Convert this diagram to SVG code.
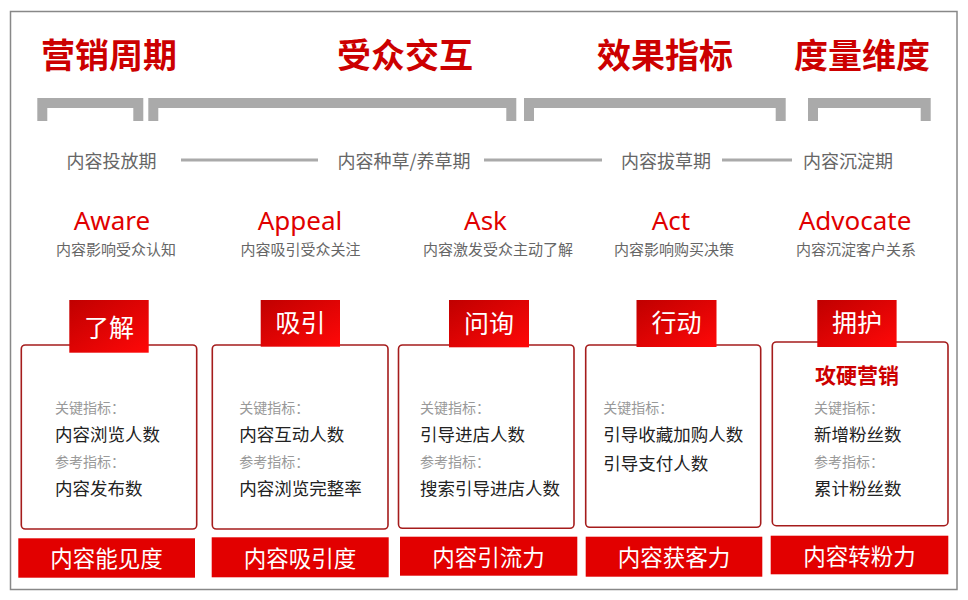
<svg xmlns="http://www.w3.org/2000/svg" width="968" height="600" viewBox="0 0 968 600">
<defs>
<linearGradient id="tabGrad" x1="0" y1="0" x2="1" y2="1">
<stop offset="0" stop-color="#c00000"/>
<stop offset="1" stop-color="#ff0808"/>
</linearGradient>
<style>
.cjk{font-family:"Noto Sans CJK SC","Noto Sans",sans-serif}
.title{font-size:34px;font-weight:bold;fill:#cc0000}
.bracket{fill:none;stroke:#aaaaaa;stroke-width:10;stroke-linejoin:miter}
.period{font-size:18px;fill:#666666}
.conn{stroke:#aaaaaa;stroke-width:3}
.en{font-family:"Noto Sans","Open Sans",sans-serif;font-size:26px;fill:#e00000;text-anchor:middle}
.sub{font-size:15px;fill:#666666;text-anchor:middle}
.tab{fill:url(#tabGrad)}
.tabtxt{font-size:25px;fill:#ffffff;text-anchor:middle}
.card{fill:#ffffff;stroke:#a51c1c;stroke-width:1.6}
.lbl{font-size:14px;fill:#999999}
.val{font-size:17.5px;fill:#222222}
.bar{fill:#e20000}
.bartxt{font-size:22.5px;fill:#ffffff;text-anchor:middle}
</style>
</defs>
<rect x="0" y="0" width="968" height="600" fill="#ffffff"/>
<rect x="10.5" y="11.5" width="946.5" height="578" fill="none" stroke="#888888" stroke-width="1.5"/>

<g id="titles" class="cjk">
<text class="title" x="41" y="68">营销周期</text>
<text class="title" x="337" y="68">受众交互</text>
<text class="title" x="597" y="68">效果指标</text>
<text class="title" x="794" y="68">度量维度</text>
</g>

<g id="brackets">
<path class="bracket" d="M42.3 121 V103 H138.3 V121"/>
<path class="bracket" d="M153.3 121 V103 H511.3 V121"/>
<path class="bracket" d="M529 121 V103 H780.7 V121"/>
<path class="bracket" d="M813 121 V103 H925.7 V121"/>
</g>

<g id="periods" class="cjk">
<text class="period" x="66.5" y="168">内容投放期</text>
<text class="period" x="337.5" y="168">内容种草/养草期</text>
<text class="period" x="621" y="168">内容拔草期</text>
<text class="period" x="803" y="168">内容沉淀期</text>
</g>

<g id="connectors">
<line class="conn" x1="181" y1="160" x2="318" y2="160"/>
<line class="conn" x1="484" y1="160" x2="602" y2="160"/>
<line class="conn" x1="722" y1="160" x2="792" y2="160"/>
</g>

<g id="stage-aware">
<text class="en" x="112" y="230">Aware</text>
<text class="sub cjk" x="116" y="255">内容影响受众认知</text>
<rect class="card" x="21.3" y="345" width="175.4" height="184" rx="4"/>
<rect class="tab" x="69.3" y="300" width="79.4" height="52.7"/>
<text class="tabtxt cjk" x="109" y="337">了解</text>
<text class="lbl cjk" x="55" y="413">关键指标：</text>
<text class="val cjk" x="55" y="441">内容浏览人数</text>
<text class="lbl cjk" x="55" y="467">参考指标：</text>
<text class="val cjk" x="55" y="495">内容发布数</text>
<rect class="bar" x="18.3" y="538.3" width="176.7" height="39.4"/>
<text class="bartxt cjk" x="106.5" y="567">内容能见度</text>
</g>

<g id="stage-appeal">
<text class="en" x="300" y="230">Appeal</text>
<text class="sub cjk" x="300.5" y="255">内容吸引受众关注</text>
<rect class="card" x="212.3" y="345" width="175.7" height="184" rx="4"/>
<rect class="tab" x="260.7" y="300" width="79.3" height="46.7"/>
<text class="tabtxt cjk" x="300.5" y="332">吸引</text>
<text class="lbl cjk" x="239.3" y="413">关键指标：</text>
<text class="val cjk" x="239.3" y="441">内容互动人数</text>
<text class="lbl cjk" x="239.3" y="467">参考指标：</text>
<text class="val cjk" x="239.3" y="495">内容浏览完整率</text>
<rect class="bar" x="211.7" y="537.3" width="177" height="40"/>
<text class="bartxt cjk" x="300" y="566.5">内容吸引度</text>
</g>

<g id="stage-ask">
<text class="en" x="485.5" y="230">Ask</text>
<text class="sub cjk" x="498" y="255">内容激发受众主动了解</text>
<rect class="card" x="398.5" y="345" width="175.5" height="183.3" rx="4"/>
<rect class="tab" x="449" y="300" width="80" height="47.3"/>
<text class="tabtxt cjk" x="489" y="332.5">问询</text>
<text class="lbl cjk" x="420" y="413">关键指标：</text>
<text class="val cjk" x="420" y="441">引导进店人数</text>
<text class="lbl cjk" x="420" y="467">参考指标：</text>
<text class="val cjk" x="420" y="495">搜索引导进店人数</text>
<rect class="bar" x="400" y="536.7" width="177.3" height="39"/>
<text class="bartxt cjk" x="488.5" y="565.5">内容引流力</text>
</g>

<g id="stage-act">
<text class="en" x="671" y="230">Act</text>
<text class="sub cjk" x="674" y="255">内容影响购买决策</text>
<rect class="card" x="585.7" y="345" width="175" height="182.3" rx="4"/>
<rect class="tab" x="636.5" y="300" width="80" height="47"/>
<text class="tabtxt cjk" x="676.5" y="332">行动</text>
<text class="lbl cjk" x="603.3" y="413">关键指标：</text>
<text class="val cjk" x="603.3" y="441">引导收藏加购人数</text>
<text class="val cjk" x="603.3" y="470">引导支付人数</text>
<rect class="bar" x="585.7" y="536.7" width="176.6" height="40"/>
<text class="bartxt cjk" x="674" y="566">内容获客力</text>
</g>

<g id="stage-advocate">
<text class="en" x="855" y="230">Advocate</text>
<text class="sub cjk" x="856" y="255">内容沉淀客户关系</text>
<rect class="card" x="772.3" y="342" width="175.7" height="183.7" rx="4"/>
<rect class="tab" x="817.3" y="300" width="79.3" height="47"/>
<text class="tabtxt cjk" x="857" y="332">拥护</text>
<text class="cjk" x="857" y="383" font-size="21" font-weight="bold" fill="#cc0000" text-anchor="middle">攻硬营销</text>
<text class="lbl cjk" x="814" y="413">关键指标：</text>
<text class="val cjk" x="814" y="441">新增粉丝数</text>
<text class="lbl cjk" x="814" y="467">参考指标：</text>
<text class="val cjk" x="814" y="495">累计粉丝数</text>
<rect class="bar" x="770.7" y="535.7" width="177.6" height="38.6"/>
<text class="bartxt cjk" x="859.5" y="564.5">内容转粉力</text>
</g>
</svg>
